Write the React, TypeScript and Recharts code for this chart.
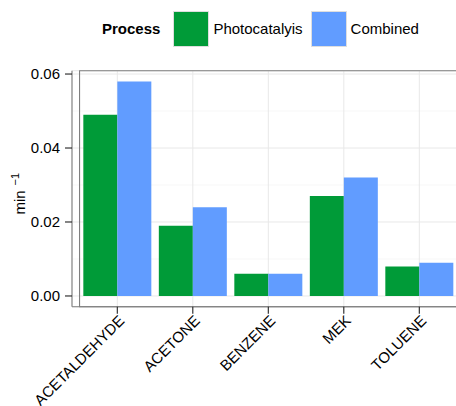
import {
  Bar,
  BarChart,
  CartesianGrid,
  Legend,
  ReferenceArea,
  XAxis,
  YAxis,
} from 'recharts'

// Values (rate constants, min^-1)
const compounds = ['ACETALDEHYDE', 'ACETONE', 'BENZENE', 'MEK', 'TOLUENE']
const photocatalysis = [0.049, 0.019, 0.006, 0.027, 0.008]
const combined = [0.058, 0.024, 0.006, 0.032, 0.009]
const yTicks = [0, 0.02, 0.04, 0.06]
const yMinorTicks = [0.01, 0.03, 0.05]
const yDomain: [number, number] = [-0.0029, 0.0609]

const PHOTO_COLOR = '#009B38'
const COMBINED_COLOR = '#619CFF'
const BORDER_COLOR = '#7F7F7F'
const GRID_MAJOR = '#E8E8E8'
const GRID_MINOR = '#F7F7F7'
const FONT = '"Liberation Sans", Arial, Helvetica, sans-serif'

const data = compounds.map((name, i) => ({
  name,
  photo: photocatalysis[i],
  combined: combined[i],
}))

function ProcessLegend({ payload }: any) {
  return (
    <div
      style={{
        display: 'flex',
        alignItems: 'center',
        height: 57,
        marginLeft: 102,
        fontFamily: FONT,
        fontSize: 15,
        color: '#000',
      }}
    >
      <span style={{ fontWeight: 'bold', marginRight: 13 }}>Process</span>
      {(payload ?? []).map((p: any) => (
        <span
          key={p.value}
          style={{ display: 'flex', alignItems: 'center', marginRight: 8 }}
        >
          <span
            style={{
              width: 36,
              height: 36,
              boxSizing: 'border-box',
              background: p.color,
              border: '1px solid #dedede',
              marginRight: 4,
            }}
          />
          {p.value}
        </span>
      ))}
    </div>
  )
}

function CompoundTick({ x, y, payload }: any) {
  const ax = x + 8
  const ay = y + 8
  return (
    <text
      x={ax}
      y={ay}
      transform={`rotate(-45, ${ax}, ${ay})`}
      textAnchor="end"
      fontFamily={FONT}
      fontSize={15}
      fill="#000"
    >
      {payload.value}
    </text>
  )
}

function RateLabel({ viewBox }: any) {
  // ggplot centres the whole expression a little below the panel middle
  const cy = viewBox.y + viewBox.height / 2 + 5
  return (
    <text
      transform={`translate(24.5, ${cy}) rotate(-90)`}
      textAnchor="middle"
      fontFamily={FONT}
      fontSize={15}
      fill="#000"
    >
      min
      <tspan fontSize={11} dy={-6} dx={5}>
        −1
      </tspan>
    </text>
  )
}

export default function App() {
  return (
    <div
      style={{
        position: 'fixed',
        left: 0,
        top: 0,
        width: 456,
        height: 406,
        overflow: 'hidden',
        background: '#fff',
      }}
    >
      <BarChart
        width={470}
        height={406}
        data={data}
        barCategoryGap="5%"
        barGap={0}
        margin={{ top: 70.7, right: 5.4, bottom: 0, left: 0 }}
      >
        <YAxis yAxisId="minor" hide type="number" domain={yDomain} ticks={yMinorTicks} allowDataOverflow />
        <CartesianGrid yAxisId="minor" vertical={false} stroke={GRID_MINOR} strokeWidth={1} />
        <CartesianGrid stroke={GRID_MAJOR} strokeWidth={1} />
        <XAxis
          dataKey="name"
          height={99.3}
          padding={{ left: 7.55, right: 7.55 }}
          axisLine={{ stroke: BORDER_COLOR, strokeWidth: 1.1 }}
          tickLine={{ stroke: '#222', strokeWidth: 1.1 }}
          tickSize={7}
          tickMargin={0}
          interval={0}
          tick={<CompoundTick />}
        />
        <YAxis
          type="number"
          domain={yDomain}
          ticks={yTicks}
          allowDataOverflow
          width={72}
          axisLine={{ stroke: BORDER_COLOR, strokeWidth: 1.1 }}
          tickLine={{ stroke: '#222', strokeWidth: 1.1 }}
          tickSize={7}
          tickMargin={5}
          tick={{ fill: '#000', fontSize: 15, fontFamily: FONT }}
          tickFormatter={(v: number) => v.toFixed(2)}
          label={{ content: <RateLabel /> }}
        />
        <Legend
          layout="horizontal"
          verticalAlign="middle"
          align="center"
          itemSorter={() => 0}
          wrapperStyle={{ top: 0, left: 0, width: 470, height: 57 }}
          content={<ProcessLegend />}
        />
        <Bar dataKey="photo" name="Photocatalyis" fill={PHOTO_COLOR} isAnimationActive={false} />
        <Bar dataKey="combined" name="Combined" fill={COMBINED_COLOR} isAnimationActive={false} />
        <ReferenceArea
          y1={yDomain[0]}
          y2={yDomain[1]}
          fill="none"
          stroke={BORDER_COLOR}
          strokeWidth={1.1}
          ifOverflow="visible"
        />
      </BarChart>
    </div>
  )
}
